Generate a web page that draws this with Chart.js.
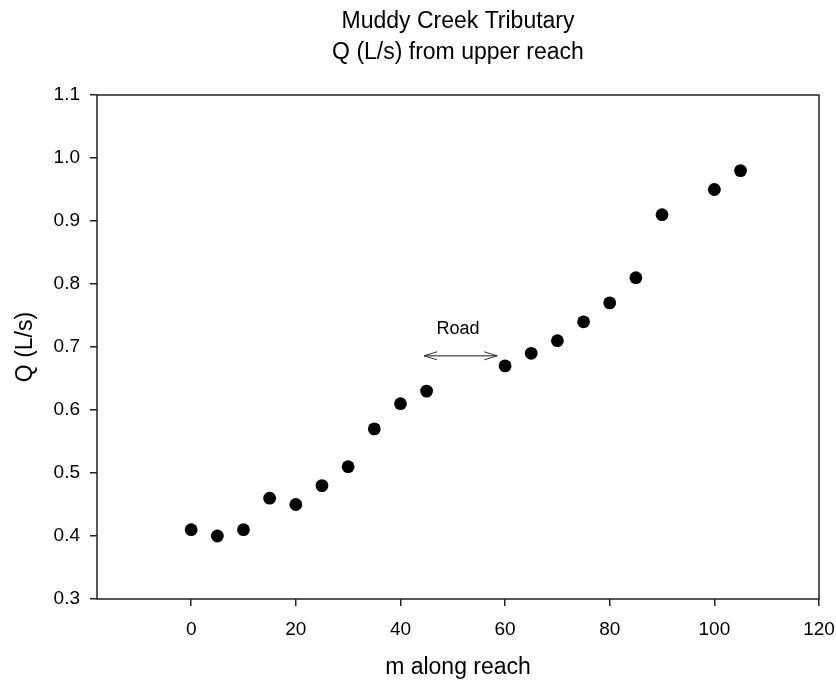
<!DOCTYPE html>
<html lang="en">
<head>
    <meta charset="UTF-8">
    <title>Muddy Creek Tributary</title>
    <script src="https://cdn.jsdelivr.net/npm/chart.js"></script>
    <style>
        body {
            margin: 0;
            background: #fff;
        }
        #wrap {
            width: 836px;
            height: 685px;
        }
    </style>
</head>
<body>
    <div id="wrap">
        <canvas id="chart" width="836" height="685"></canvas>
    </div>
    <script>
        // data
        const titleLines = ['Muddy Creek Tributary', 'Q (L/s) from upper reach'];
        const distance = [0, 5, 10, 15, 20, 25, 30, 35, 40, 45, 60, 65, 70, 75, 80, 85, 90, 100, 105];
        const flow = [0.41, 0.40, 0.41, 0.46, 0.45, 0.48, 0.51, 0.57, 0.61, 0.63, 0.67, 0.69, 0.71, 0.74, 0.77, 0.81, 0.91, 0.95, 0.98];
        const xTicks = [0, 20, 40, 60, 80, 100, 120];
        const roadLabel = 'Road';
        const roadFrom = 44.5;
        const roadTo = 58.5;
        const roadLevel = 0.686;
        const roadLabelAt = [51, 0.728];

        const font = '"Liberation Sans", Arial, sans-serif';

        // box around the plot, title over it, and the road arrow
        const extras = {
            id: 'extras',
            beforeDatasetsDraw(chart) {
                const { ctx, chartArea: a } = chart;
                ctx.save();
                ctx.strokeStyle = '#222';
                ctx.lineWidth = 1.5;
                ctx.strokeRect(a.left, a.top, a.right - a.left, a.bottom - a.top);
                ctx.restore();
            },
            afterDraw(chart) {
                const { ctx, chartArea: a, scales } = chart;
                const x = scales.x, y = scales.y;
                ctx.save();

                // title
                ctx.fillStyle = '#000';
                ctx.font = '23px ' + font;
                ctx.textAlign = 'center';
                ctx.textBaseline = 'middle';
                const cx = (a.left + a.right) / 2;
                ctx.fillText(titleLines[0], cx, 22);
                ctx.fillText(titleLines[1], cx, 53);

                // road arrow
                const x1 = x.getPixelForValue(roadFrom);
                const x2 = x.getPixelForValue(roadTo);
                const yy = y.getPixelForValue(roadLevel);
                ctx.strokeStyle = '#666';
                ctx.lineWidth = 1.6;
                ctx.beginPath();
                ctx.moveTo(x1, yy);
                ctx.lineTo(x2, yy);
                ctx.stroke();
                ctx.strokeStyle = '#333';
                ctx.lineWidth = 1;
                ctx.beginPath();
                ctx.moveTo(x1 + 13, yy - 4);
                ctx.lineTo(x1, yy);
                ctx.lineTo(x1 + 13, yy + 4);
                ctx.moveTo(x2 - 13, yy - 4);
                ctx.lineTo(x2, yy);
                ctx.lineTo(x2 - 13, yy + 4);
                ctx.stroke();

                ctx.fillStyle = '#000';
                ctx.font = '18px ' + font;
                ctx.fillText(roadLabel, x.getPixelForValue(roadLabelAt[0]), y.getPixelForValue(roadLabelAt[1]));
                ctx.restore();
            }
        };

        const ctx = document.getElementById('chart').getContext('2d');
        new Chart(ctx, {
            type: 'scatter',
            data: {
                datasets: [{
                    label: 'Q',
                    data: distance.map((d, i) => ({ x: d, y: flow[i] })),
                    backgroundColor: '#000',
                    borderWidth: 0,
                    pointRadius: 6.4,
                    pointHoverRadius: 6.4
                }]
            },
            options: {
                responsive: false,
                animation: false,
                layout: {
                    padding: { left: 8, right: 17, top: 95, bottom: 0 }
                },
                plugins: {
                    legend: { display: false },
                    tooltip: { enabled: false }
                },
                scales: {
                    x: {
                        type: 'linear',
                        min: -18,
                        max: 120,
                        afterBuildTicks: scale => {
                            scale.ticks = xTicks.map(v => ({ value: v }));
                        },
                        afterFit: scale => {
                            scale.height = 86;
                            scale.paddingLeft = 0;
                            scale.paddingRight = 0;
                        },
                        grid: {
                            drawOnChartArea: false,
                            tickLength: 7,
                            color: '#222',
                            lineWidth: 1.5
                        },
                        border: { display: false },
                        ticks: {
                            color: '#000',
                            padding: 12,
                            maxRotation: 0,
                            font: { family: font, size: 19 }
                        },
                        title: {
                            display: true,
                            text: 'm along reach',
                            color: '#000',
                            font: { family: font, size: 23 }
                        }
                    },
                    y: {
                        min: 0.3,
                        max: 1.1,
                        ticks: {
                            stepSize: 0.1,
                            color: '#000',
                            padding: 10,
                            font: { family: font, size: 19 },
                            callback: v => v.toFixed(1)
                        },
                        afterFit: scale => {
                            scale.width = 89;
                            scale.paddingTop = 0;
                            scale.paddingBottom = 0;
                        },
                        grid: {
                            drawOnChartArea: false,
                            tickLength: 7,
                            color: '#222',
                            lineWidth: 1.5
                        },
                        border: { display: false },
                        title: {
                            display: true,
                            text: 'Q (L/s)',
                            color: '#000',
                            font: { family: font, size: 23 }
                        }
                    }
                }
            },
            plugins: [extras]
        });
    </script>
</body>
</html>
